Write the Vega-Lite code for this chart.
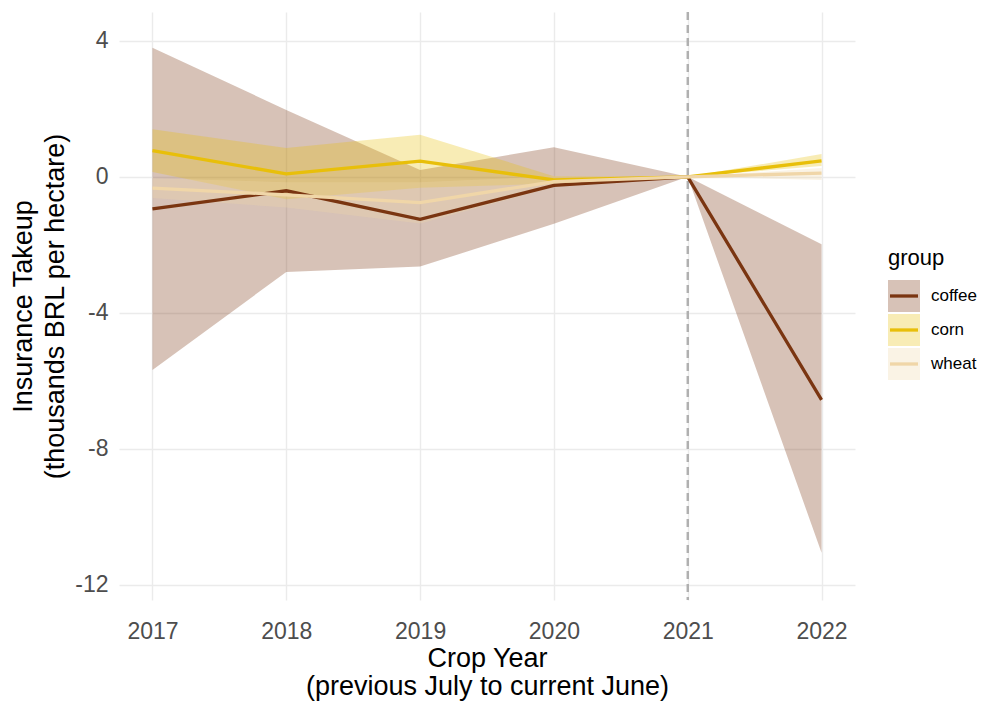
{
  "$schema": "https://vega.github.io/schema/vega-lite/v6.json",
  "width": 736,
  "height": 588,
  "autosize": "none",
  "padding": {"left": 119, "top": 12, "right": 127, "bottom": 104},
  "background": "white",
  "config": {
    "font": "Liberation Sans",
    "view": {"stroke": null},
    "axis": {
      "domain": false,
      "ticks": false,
      "gridColor": "#ebebeb",
      "gridWidth": 1.4,
      "labelColor": "#4d4d4d",
      "labelFontSize": 23,
      "titleColor": "#000000",
      "titleFontSize": 27,
      "titleFontWeight": "normal"
    },
    "legend": {"padding": 0}
  },
  "data": {
    "values": [
      {"group": "coffee", "year": 2017, "est": -0.94, "lo": -5.68, "hi": 3.8},
      {"group": "coffee", "year": 2018, "est": -0.41, "lo": -2.8, "hi": 1.97},
      {"group": "coffee", "year": 2019, "est": -1.25, "lo": -2.64, "hi": 0.2},
      {"group": "coffee", "year": 2020, "est": -0.25, "lo": -1.38, "hi": 0.87},
      {"group": "coffee", "year": 2021, "est": 0, "lo": 0, "hi": 0},
      {"group": "coffee", "year": 2022, "est": -6.56, "lo": -11.06, "hi": -1.98},
      {"group": "corn", "year": 2017, "est": 0.77, "lo": 0.14, "hi": 1.4},
      {"group": "corn", "year": 2018, "est": 0.09, "lo": -0.66, "hi": 0.85},
      {"group": "corn", "year": 2019, "est": 0.46, "lo": -0.32, "hi": 1.24},
      {"group": "corn", "year": 2020, "est": -0.09, "lo": -0.2, "hi": 0.02},
      {"group": "corn", "year": 2021, "est": 0, "lo": 0, "hi": 0},
      {"group": "corn", "year": 2022, "est": 0.47, "lo": 0.32, "hi": 0.67},
      {"group": "wheat", "year": 2017, "est": -0.33, "lo": -0.62, "hi": -0.04},
      {"group": "wheat", "year": 2018, "est": -0.53, "lo": -0.9, "hi": -0.16},
      {"group": "wheat", "year": 2019, "est": -0.76, "lo": -1.37, "hi": -0.16},
      {"group": "wheat", "year": 2020, "est": -0.14, "lo": -0.3, "hi": 0.02},
      {"group": "wheat", "year": 2021, "est": 0, "lo": 0, "hi": 0},
      {"group": "wheat", "year": 2022, "est": 0.11, "lo": -0.09, "hi": 0.26}
    ]
  },
  "encoding": {
    "x": {
      "field": "year",
      "type": "quantitative",
      "scale": {"domain": [2016.75, 2022.25], "nice": false, "zero": false},
      "axis": {
        "values": [2017, 2018, 2019, 2020, 2021, 2022],
        "format": "d",
        "labelPadding": 20,
        "titlePadding": 2,
        "titleLineHeight": 28
      },
      "title": ["Crop Year", "(previous July to current June)"]
    }
  },
  "layer": [
    {
      "mark": {"type": "area", "opacity": 0.3},
      "encoding": {
        "y": {
          "field": "lo",
          "type": "quantitative",
          "scale": {"domain": [-12.45, 4.85], "nice": false, "zero": false},
          "axis": {
            "values": [4, 0, -4, -8, -12],
            "labelExpr": "'' + datum.value",
            "labelPadding": 11,
            "titlePadding": 5,
            "titleLineHeight": 32
          },
          "title": ["Insurance Takeup", "(thousands BRL per hectare)"]
        },
        "y2": {"field": "hi"},
        "fill": {
          "field": "group",
          "type": "nominal",
          "scale": {"range": ["#7a3511", "#e8bf0a", "#f0d6a8"]},
          "legend": {
            "orient": "none",
            "legendX": 769,
            "legendY": 236,
            "title": "group",
            "titleFontSize": 22,
            "titleFontWeight": "normal",
            "titleColor": "#000000",
            "titlePadding": 10,
            "labelFontSize": 17,
            "labelColor": "#000000",
            "labelOffset": 11,
            "symbolType": "square",
            "symbolSize": 1024,
            "symbolOpacity": 0.3,
            "symbolStrokeWidth": 0,
            "clipHeight": 32,
            "rowPadding": 2
          }
        }
      }
    },
    {
      "mark": {"type": "rule", "color": "#a6a6a6", "strokeWidth": 1.8},
      "encoding": {"y": {"datum": 0, "type": "quantitative"}}
    },
    {
      "mark": {"type": "rule", "color": "#b0b0b0", "strokeWidth": 1.5, "strokeDash": [8, 5]},
      "encoding": {"x": {"datum": 2021, "type": "quantitative"}}
    },
    {
      "mark": {"type": "line", "strokeWidth": 3.3},
      "encoding": {
        "y": {"field": "est", "type": "quantitative"},
        "stroke": {
          "field": "group",
          "type": "nominal",
          "scale": {"domain": ["coffee", "corn", "wheat"], "range": ["#7a3511", "#e8bf0a", "#f0d6a8"]},
          "legend": {
            "orient": "none",
            "legendX": 769,
            "legendY": 236,
            "title": "group",
            "titleFontSize": 22,
            "titleFontWeight": "normal",
            "titleColor": "transparent",
            "titlePadding": 10,
            "labelFontSize": 17,
            "labelColor": "transparent",
            "labelOffset": 11,
            "symbolType": "stroke",
            "symbolSize": 784,
            "symbolStrokeWidth": 3.3,
            "clipHeight": 32,
            "rowPadding": 2
          }
        }
      }
    }
  ]
}
